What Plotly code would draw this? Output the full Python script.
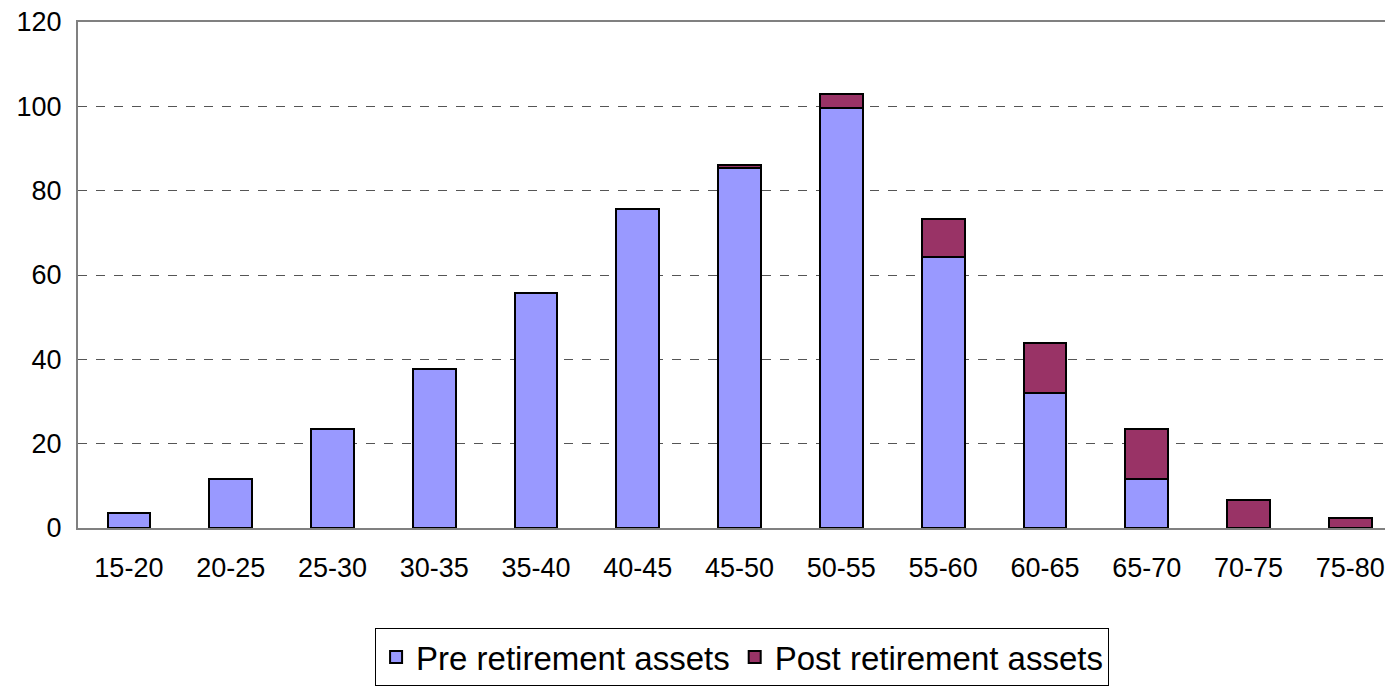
import plotly.graph_objects as go

# age bands
categories = ["15-20", "20-25", "25-30", "30-35", "35-40", "40-45", "45-50",
              "50-55", "55-60", "60-65", "65-70", "70-75", "75-80"]

# series values
pre_retirement = [3.6, 11.7, 23.4, 37.6, 55.8, 75.6, 85.3, 99.7, 64.3, 32.1, 11.6, 0, 0]
post_retirement = [0, 0, 0, 0, 0, 0, 0.9, 3.2, 8.9, 11.8, 11.8, 6.7, 2.4]

y_ticks = [0, 20, 40, 60, 80, 100, 120]

FONT = "Liberation Sans, Arial, sans-serif"
barLine = dict(color='black', width=2)

fig = go.Figure()
fig.add_trace(go.Bar(x=categories, y=pre_retirement, name="Pre retirement assets",
                     marker=dict(color='#9999FF', line=barLine)))
fig.add_trace(go.Bar(x=categories, y=post_retirement, name="Post retirement assets",
                     marker=dict(color='#993366', line=barLine)))

# page body has an 8px margin, so the figure is a bit smaller than the window
fig.update_layout(
    width=1385, height=678,
    margin=dict(l=70, r=0, t=14, b=151),
    barmode='stack',
    bargap=0.58,
    plot_bgcolor='white',
    paper_bgcolor='white',
    font=dict(family=FONT, size=27, color='black'),
    showlegend=True,
    legend=dict(
        orientation='h',
        x=0.505, xanchor='center',
        y=-0.198, yanchor='top',
        bordercolor='black', borderwidth=1,
        bgcolor='white',
        font=dict(size=33),
        traceorder='normal',
        itemwidth=30,
    ),
)

# category axis: cropped on the right as in the reference
fig.update_xaxes(
    type='category',
    range=[-0.5, 12.42],
    showline=True, linecolor='#808080', linewidth=2, mirror=True,
    ticks='', ticklabelstandoff=15,
    showgrid=False,
    automargin=False,
)

fig.update_yaxes(
    range=[0, 120],
    tickvals=y_ticks,
    showline=True, linecolor='#808080', linewidth=2,
    ticks='', ticklabelstandoff=9,
    ticklabeloverflow='allow',
    showgrid=True, gridcolor='#555555', gridwidth=1, griddash='dash',
    zeroline=False,
    automargin=False,
)

fig.write_html("out.html")
